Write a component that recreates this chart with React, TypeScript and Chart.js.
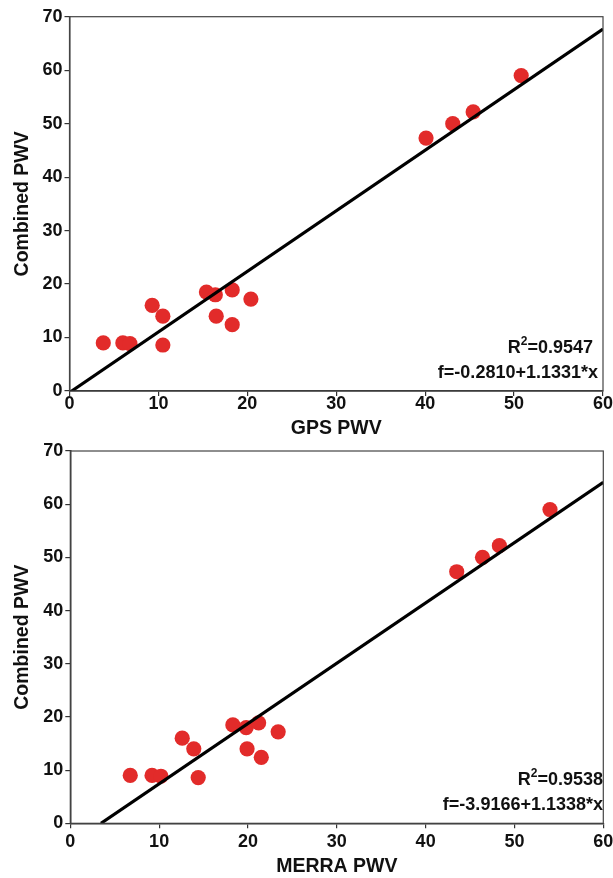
import React, { useEffect, useRef } from "react";
import { Chart, registerables } from "chart.js";

Chart.register(...registerables);

// ---- Data ----
const combinedPWV = [9.0, 9.0, 8.85, 16.0, 14.0, 8.6, 18.5, 18.0, 14.0, 18.9, 12.4, 17.2, 47.3, 50.0, 52.2, 59.0];
const gpsPWV = [3.8, 6.0, 6.8, 9.3, 10.5, 10.5, 15.4, 16.4, 16.5, 18.3, 18.3, 20.4, 40.1, 43.1, 45.4, 50.8];
const merraPWV = [6.75, 9.2, 10.2, 12.6, 13.9, 14.4, 18.3, 19.8, 19.9, 21.2, 21.5, 23.4, 43.5, 46.4, 48.3, 54.0];

// fitted lines: [intercept, slope], x-range drawn
const gpsFitCoef = [-0.281, 1.1331];
const gpsFitRange = [0, 60];
const merraFitCoef = [-3.9166, 1.1338];
const merraFitRange = [3.4543, 60];

const gpsLabels = ["0.9547", "f=-0.2810+1.1331*x"];
const merraLabels = ["0.9538", "f=-3.9166+1.1338*x"];

const xAxisMax = 60;
const yAxisMax = 70;
const tickStep = 10;

const FONT = "'Liberation Sans', Arial, Helvetica, sans-serif";
const TEXT = "#111";
const RED = "#e22b2a";

type Cfg = {
  xs: number[];
  ys: number[];
  coef: number[];
  range: number[];
  labels: string[];
  xTitle: string;
  height: number;
  padTop: number;
  padRight: number;
  yWidth: number;
  xHeight: number;
  xTickPad: number;
  xTickLH: number;
  xTitlePad: number;
  annRight: number[];
  annY: number[];
};

function makeChart(canvas: HTMLCanvasElement, c: Cfg) {
  const pts = c.xs.map((x, i) => ({ x, y: c.ys[i] }));
  const fit = c.range.map((x) => ({ x, y: c.coef[0] + c.coef[1] * x }));

  const framePlugin = {
    id: "frameAndText",
    afterDraw(chart: any) {
      const ctx = chart.ctx;
      const a = chart.chartArea;
      ctx.save();
      ctx.strokeStyle = "#444";
      ctx.lineWidth = 1.2;
      ctx.strokeRect(a.left, a.top, a.right - a.left, a.bottom - a.top);
      // annotation text
      ctx.fillStyle = TEXT;
      ctx.textBaseline = "middle";
      ctx.textAlign = "left";
      const big = `bold 18px ${FONT}`;
      const small = `bold 12px ${FONT}`;
      ctx.font = big;
      const wR = ctx.measureText("R").width;
      const wRest = ctx.measureText("=" + c.labels[0]).width;
      ctx.font = small;
      const w2 = ctx.measureText("2").width;
      const x0 = c.annRight[0] - (wR + w2 + wRest);
      const y0 = c.annY[0];
      ctx.font = big;
      ctx.fillText("R", x0, y0);
      ctx.font = small;
      ctx.fillText("2", x0 + wR, y0 - 6);
      ctx.font = big;
      ctx.fillText("=" + c.labels[0], x0 + wR + w2, y0);
      ctx.textAlign = "right";
      ctx.fillText(c.labels[1], c.annRight[1], c.annY[1]);
      ctx.restore();
    },
  };

  return new Chart(canvas, {
    type: "scatter",
    data: {
      datasets: [
        {
          type: "line",
          data: fit,
          borderColor: "#000",
          borderWidth: 3.2,
          pointRadius: 0,
          fill: false,
        } as any,
        {
          data: pts,
          backgroundColor: RED,
          borderColor: RED,
          borderWidth: 0,
          pointRadius: 7.6,
        },
      ],
    },
    options: {
      animation: false,
      responsive: false,
      events: [],
      layout: { padding: { top: c.padTop, right: c.padRight, left: 0, bottom: 0 } },
      plugins: { legend: { display: false }, tooltip: { enabled: false } },
      scales: {
        x: {
          type: "linear",
          min: 0,
          max: xAxisMax,
          afterFit: (s: any) => {
            s.height = c.xHeight;
          },
          ticks: {
            stepSize: tickStep,
            color: TEXT,
            padding: c.xTickPad,
            maxRotation: 0,
            font: { family: FONT, size: 18, weight: "bold", lineHeight: c.xTickLH },
          },
          grid: { display: true, drawOnChartArea: false, drawTicks: true, tickLength: 5, color: "#333", lineWidth: 1.2 },
          border: { display: true, color: "#333", width: 1.5 },
          title: {
            display: true,
            text: c.xTitle,
            color: TEXT,
            padding: { top: 0, bottom: c.xTitlePad },
            font: { family: FONT, size: 19.5, weight: "bold", lineHeight: 1 },
          },
        },
        y: {
          type: "linear",
          min: 0,
          max: yAxisMax,
          afterFit: (s: any) => {
            s.width = c.yWidth;
          },
          ticks: {
            stepSize: tickStep,
            color: TEXT,
            padding: 2,
            font: { family: FONT, size: 18, weight: "bold", lineHeight: 1 },
          },
          grid: { display: true, drawOnChartArea: false, drawTicks: true, tickLength: 5, color: "#333", lineWidth: 1.2 },
          border: { display: true, color: "#333", width: 1.5 },
          title: {
            display: true,
            text: "Combined PWV",
            color: TEXT,
            padding: { top: 13, bottom: 0 },
            font: { family: FONT, size: 19.5, weight: "bold", lineHeight: 1 },
          },
        },
      },
    },
    plugins: [framePlugin],
  } as any);
}

function Panel({ cfg, top }: { cfg: Cfg; top: number }) {
  const ref = useRef<HTMLCanvasElement>(null);
  useEffect(() => {
    if (!ref.current) return;
    const ch = makeChart(ref.current, cfg);
    return () => ch.destroy();
  }, []);
  return (
    <canvas
      ref={ref}
      width={613}
      height={cfg.height}
      style={{ position: "absolute", left: 0, top, width: 613, height: cfg.height, display: "block" }}
    />
  );
}

const topCfg: Cfg = {
  xs: gpsPWV,
  ys: combinedPWV,
  coef: gpsFitCoef,
  range: gpsFitRange,
  labels: gpsLabels,
  xTitle: "GPS PWV",
  height: 440,
  padTop: 16.7,
  padRight: 10,
  yWidth: 69.5,
  xHeight: 49,
  xTickPad: -1,
  xTickLH: 1,
  xTitlePad: 1.25,
  annRight: [593, 598],
  annY: [348, 373],
};

const bottomCfg: Cfg = {
  xs: merraPWV,
  ys: combinedPWV,
  coef: merraFitCoef,
  range: merraFitRange,
  labels: merraLabels,
  xTitle: "MERRA PWV",
  height: 438,
  padTop: 9.3,
  padRight: 9.7,
  yWidth: 70.3,
  xHeight: 54.7,
  xTickPad: -1,
  xTickLH: 1.65,
  xTitlePad: 1.55,
  annRight: [603, 603],
  annY: [340, 365],
};

export default function App() {
  return (
    <div style={{ position: "absolute", left: 0, top: 0, width: 613, height: 878, background: "#fff", overflow: "hidden" }}>
      <Panel cfg={topCfg} top={0} />
      <Panel cfg={bottomCfg} top={440} />
    </div>
  );
}
